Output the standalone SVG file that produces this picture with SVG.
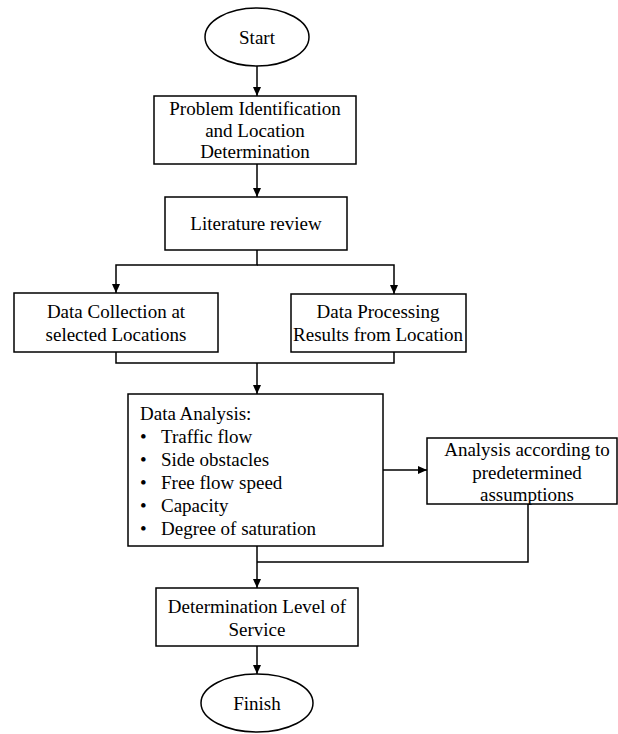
<svg xmlns="http://www.w3.org/2000/svg" width="618" height="734" viewBox="0 0 618 734">
<style>
.b{fill:#fff;stroke:#000;stroke-width:1.5}
.t{font-family:"Liberation Serif","Times New Roman",serif;font-size:19px;fill:#000}
.c{text-anchor:middle}
.l{fill:none;stroke:#000;stroke-width:1.5}
</style>
<defs>
<marker id="a" markerWidth="10" markerHeight="10" refX="9" refY="5" orient="auto" markerUnits="userSpaceOnUse">
<path d="M0,1 L9,5 L0,9 Z" fill="#000"/>
</marker>
</defs>
<rect width="618" height="734" fill="#fff"/>
<g id="connectors">
<line class="l" x1="257" y1="66" x2="257" y2="96" marker-end="url(#a)"/>
<line class="l" x1="257" y1="164" x2="257" y2="197" marker-end="url(#a)"/>
<polyline class="l" points="257,250 257,265 116,265 116,293" marker-end="url(#a)"/>
<polyline class="l" points="257,265 394,265 394,294" marker-end="url(#a)"/>
<polyline class="l" points="116,352 116,363 394,363 394,352"/>
<line class="l" x1="257" y1="363" x2="257" y2="394" marker-end="url(#a)"/>
<line class="l" x1="383" y1="470" x2="427" y2="470" marker-end="url(#a)"/>
<polyline class="l" points="528,504 528,562 257,562"/>
<line class="l" x1="257" y1="546" x2="257" y2="588" marker-end="url(#a)"/>
<line class="l" x1="257" y1="646" x2="257" y2="674" marker-end="url(#a)"/>
</g>
<g id="start">
<ellipse class="b" cx="257" cy="37" rx="52" ry="29"/>
<text class="t c" x="257" y="44">Start</text>
</g>
<g id="problem">
<rect class="b" x="154" y="96" width="202" height="68"/>
<text class="t c" x="255" y="115">Problem Identification</text>
<text class="t c" x="255" y="137">and Location</text>
<text class="t c" x="255" y="158">Determination</text>
</g>
<g id="literature">
<rect class="b" x="165" y="197" width="182" height="53"/>
<text class="t c" x="256" y="230">Literature review</text>
</g>
<g id="collection">
<rect class="b" x="14" y="293" width="204" height="59"/>
<text class="t c" x="116" y="318">Data Collection at</text>
<text class="t c" x="116" y="341">selected Locations</text>
</g>
<g id="processing">
<rect class="b" x="291" y="294" width="175" height="58"/>
<text class="t c" x="378" y="318">Data Processing</text>
<text class="t c" x="378" y="341">Results from Location</text>
</g>
<g id="analysis">
<rect class="b" x="128" y="394" width="255" height="152"/>
<text class="t" x="140" y="420">Data Analysis:</text>
<text class="t" x="140" y="443">•</text><text class="t" x="161" y="443">Traffic  flow</text>
<text class="t" x="140" y="466">•</text><text class="t" x="161" y="466">Side obstacles</text>
<text class="t" x="140" y="489">•</text><text class="t" x="161" y="489">Free flow speed</text>
<text class="t" x="140" y="512">•</text><text class="t" x="161" y="512">Capacity</text>
<text class="t" x="140" y="535">•</text><text class="t" x="161" y="535">Degree of saturation</text>
</g>
<g id="assumptions">
<rect class="b" x="427" y="438" width="190" height="66"/>
<text class="t c" x="527" y="456">Analysis according to</text>
<text class="t c" x="527" y="479">predetermined</text>
<text class="t c" x="527" y="501">assumptions</text>
</g>
<g id="los">
<rect class="b" x="156" y="588" width="202" height="58"/>
<text class="t c" x="257" y="613">Determination Level of</text>
<text class="t c" x="257" y="636">Service</text>
</g>
<g id="finish">
<ellipse class="b" cx="257" cy="703" rx="56" ry="29"/>
<text class="t c" x="257" y="710">Finish</text>
</g>
</svg>
